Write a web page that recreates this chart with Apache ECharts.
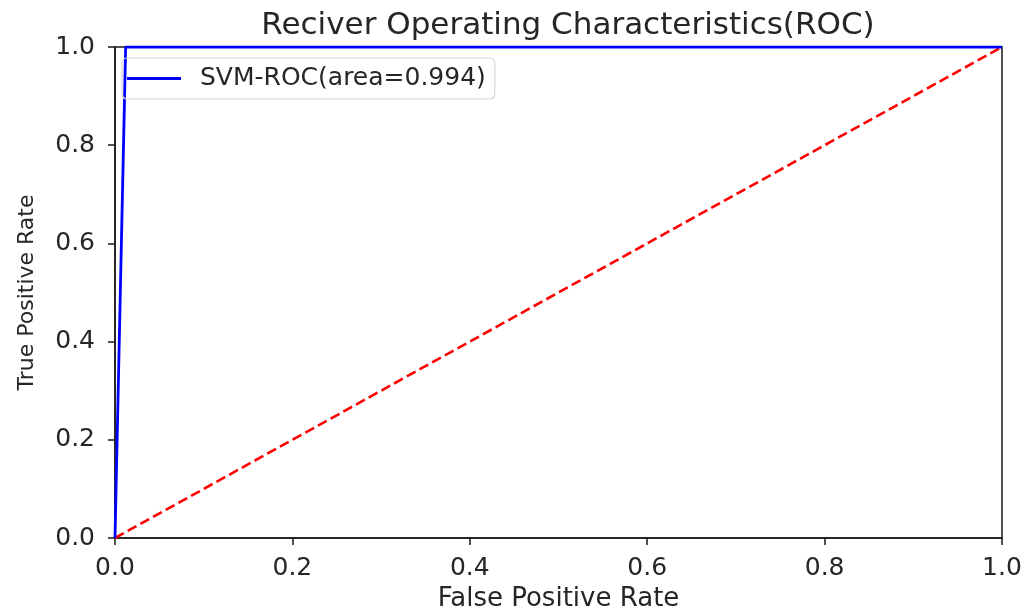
<!DOCTYPE html>
<html>
<head>
<meta charset="utf-8">
<script src="https://cdn.jsdelivr.net/npm/echarts@6/dist/echarts.min.js"></script>
<style>html,body{margin:0;padding:0;background:#fff;}#c{width:1029px;height:610px;}</style>
</head>
<body>
<div id="c"></div>
<script>
const rocFpr = [0, 0.012, 1];
const rocTpr = [0, 1, 1];
const diagX = [0, 1];
const diagY = [0, 1];
const xTicks = [0, 0.2, 0.4, 0.6, 0.8, 1.0];
const yTicks = [0, 0.2, 0.4, 0.6, 0.8, 1.0];
const seriesName = 'SVM-ROC(area=0.994)';
const titleText = 'Reciver Operating Characteristics(ROC)';

const font = 'DejaVu Sans';
const chart = echarts.init(document.getElementById('c'));
chart.setOption({
  animation: false,
  backgroundColor: '#fff',
  title: {
    text: titleText, left: 563, top: 5, textAlign: 'center',
    textStyle: { fontFamily: font, fontSize: 31, fontWeight: 'normal', color: '#262626' }
  },
  grid: { left: 115, right: 27, top: 47, bottom: 72, show: true, borderColor: '#1a1a1a', borderWidth: 1.5, containLabel: false, outerBoundsMode: 'none' },
  legend: {
    data: [seriesName], left: 122, top: 58, orient: 'vertical',
    padding: [8, 9, 8, 5], itemGap: 0,
    borderColor: '#d8d8d8', borderWidth: 1.2, borderRadius: 5,
    itemWidth: 54, itemHeight: 24, icon: 'path://M0,10.5 L54,10.5 L54,13.5 L0,13.5 Z',
    textStyle: { fontFamily: font, fontSize: 25, color: '#262626', padding: [0, 0, 0, 14] }
  },
  xAxis: {
    type: 'value', min: 0, max: 1, interval: 0.2,
    name: 'False Positive Rate', nameLocation: 'middle', nameGap: 48,
    nameTextStyle: { fontFamily: font, fontSize: 26, color: '#262626' },
    axisLine: { show: true, lineStyle: { color: '#1a1a1a', width: 1.5 } },
    axisTick: { show: true, inside: false, length: 7, lineStyle: { color: '#1a1a1a', width: 1.5 } },
    axisLabel: { fontFamily: font, fontSize: 25, color: '#262626', margin: 18, formatter: v => v.toFixed(1) },
    splitLine: { show: false }
  },
  yAxis: {
    type: 'value', min: 0, max: 1, interval: 0.2,
    name: 'True Positive Rate', nameLocation: 'middle', nameGap: 77,
    nameTextStyle: { fontFamily: font, fontSize: 22, color: '#262626' },
    axisLine: { show: true, lineStyle: { color: '#1a1a1a', width: 1.5 } },
    axisTick: { show: true, inside: false, length: 7, lineStyle: { color: '#1a1a1a', width: 1.5 } },
    axisLabel: { fontFamily: font, fontSize: 25, color: '#262626', margin: 20, formatter: v => v.toFixed(1) },
    splitLine: { show: false }
  },
  series: [
    {
      name: 'diag', type: 'line', symbol: 'none', z: 2,
      data: diagX.map((x, i) => [x, diagY[i]]),
      lineStyle: { color: '#ff0000', width: 2.6, type: [10, 4.5] }
    },
    {
      name: seriesName, type: 'line', symbol: 'none', z: 3,
      data: rocFpr.map((x, i) => [x, rocTpr[i]]),
      itemStyle: { color: '#0000ff' },
      lineStyle: { color: '#0000ff', width: 2.8 }
    }
  ]
});
</script>
</body>
</html>
